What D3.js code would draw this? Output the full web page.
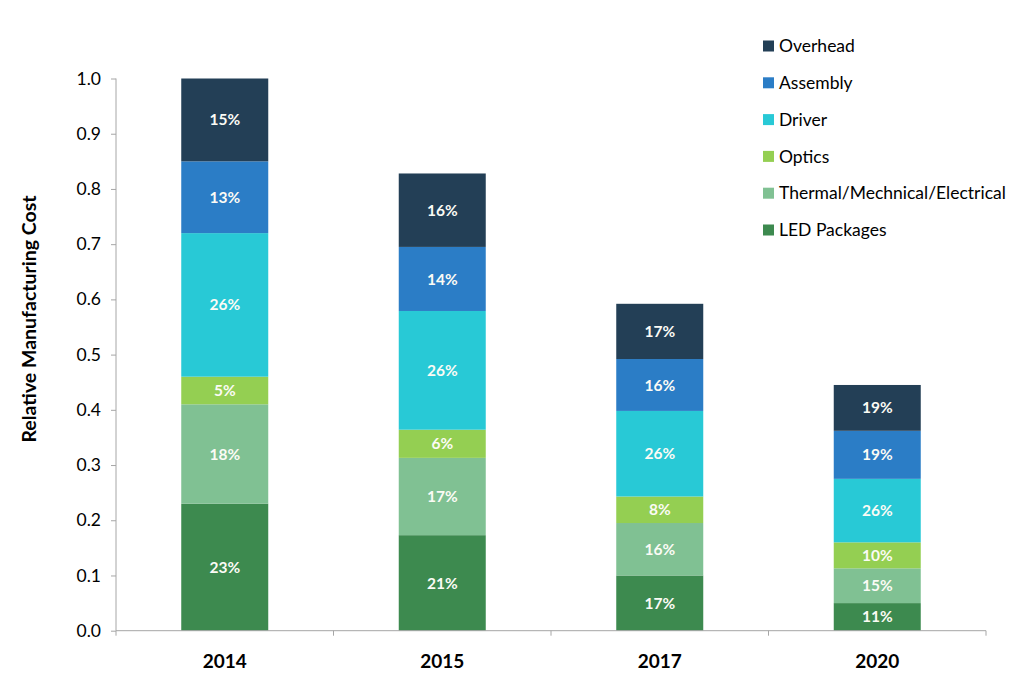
<!DOCTYPE html>
<html><head><meta charset="utf-8">
<script src="https://cdn.jsdelivr.net/npm/d3@7"></script>
<style>body{margin:0;background:#fff}svg{display:block}</style>
</head><body><svg id="c" width="1024" height="690"></svg>
<script>
const categories = ["2014", "2015", "2017", "2020"];
const seriesNames = ["LED Packages", "Thermal/Mechnical/Electrical", "Optics", "Driver", "Assembly", "Overhead"];
const colors = ["#3d8a4f", "#80c193", "#94cf52", "#28c9d6", "#2b7dc6", "#233f56"];
const ledPackages = [0.230, 0.173, 0.100, 0.050];
const thermal     = [0.180, 0.140, 0.095, 0.063];
const optics      = [0.050, 0.051, 0.048, 0.047];
const driver      = [0.260, 0.215, 0.155, 0.115];
const assembly    = [0.130, 0.116, 0.094, 0.087];
const overhead    = [0.150, 0.133, 0.100, 0.083];
const ledLabels      = ["23%", "21%", "17%", "11%"];
const thermalLabels  = ["18%", "17%", "16%", "15%"];
const opticsLabels   = ["5%", "6%", "8%", "10%"];
const driverLabels   = ["26%", "26%", "26%", "26%"];
const assemblyLabels = ["13%", "14%", "16%", "19%"];
const overheadLabels = ["15%", "16%", "17%", "19%"];
const yTicks = [0, 0.1, 0.2, 0.3, 0.4, 0.5, 0.6, 0.7, 0.8, 0.9, 1.0];
const yTitle = "Relative Manufacturing Cost";

(function () {
const values = [ledPackages, thermal, optics, driver, assembly, overhead];
const labels = [ledLabels, thermalLabels, opticsLabels, driverLabels, assemblyLabels, overheadLabels];
const rows = categories.map((c, i) => {
  const r = {cat: c};
  seriesNames.forEach((s, j) => r[s] = values[j][i]);
  return r;
});
const stack = d3.stack().keys(seriesNames)(rows);

const font = "Lato, 'Open Sans', sans-serif";
const svg = d3.select("#c");
const pl = 116, pr = 986, pt = 78.5, pb = 630.7;
const x = d3.scaleBand().domain(categories).range([pl, pr]).paddingInner(0.6).paddingOuter(0.3);
const y = d3.scaleLinear().domain([0, 1]).range([pb, pt]);

stack.forEach((layer, j) => {
  const g = svg.append("g");
  g.selectAll("rect").data(layer).join("rect")
    .attr("x", d => x(d.data.cat))
    .attr("width", x.bandwidth())
    .attr("y", d => y(d[1]))
    .attr("height", d => y(d[0]) - y(d[1]))
    .attr("fill", colors[j]);
  g.selectAll("text").data(layer).join("text")
    .attr("x", d => x(d.data.cat) + x.bandwidth() / 2)
    .attr("y", d => (y(d[0]) + y(d[1])) / 2)
    .attr("dy", "0.36em")
    .attr("text-anchor", "middle")
    .attr("fill", "#fbfbf5")
    .attr("font-family", font)
    .attr("font-weight", "bold")
    .attr("font-size", 15.5)
    .text((d, i) => labels[j][i]);
});

const yAxis = svg.append("g").attr("transform", `translate(${pl},0)`)
  .call(d3.axisLeft(y).tickValues(yTicks).tickFormat(d3.format(".1f")).tickSize(5).tickPadding(10));
yAxis.selectAll("path,line").attr("stroke", "#a6a6a6");
yAxis.select(".domain").attr("d", `M0,${pt}V${pb}`);
yAxis.selectAll("text").attr("font-family", font).attr("font-size", 17.5).attr("fill", "#000");

const xAxisG = svg.append("g").attr("transform", `translate(0,${pb})`);
xAxisG.append("line").attr("x1", pl).attr("x2", pr).attr("stroke", "#a6a6a6");
const bounds = d3.range(categories.length + 1).map(i => pl + i * x.step());
xAxisG.selectAll("line.t").data(bounds).join("line").attr("class", "t")
  .attr("x1", d => d).attr("x2", d => d).attr("y1", 0).attr("y2", 5).attr("stroke", "#a6a6a6");
xAxisG.selectAll("text").data(categories).join("text")
  .attr("x", d => x(d) + x.bandwidth() / 2)
  .attr("y", 37)
  .attr("text-anchor", "middle")
  .attr("font-family", font).attr("font-weight", "bold").attr("font-size", 19)
  .text(d => d);

svg.append("text")
  .attr("transform", `translate(36,319) rotate(-90)`)
  .attr("text-anchor", "middle")
  .attr("font-family", font).attr("font-weight", "bold").attr("font-size", 19.5)
  .text(yTitle);

const legendOrder = seriesNames.map((s, i) => i).reverse();
const lg = svg.append("g");
legendOrder.forEach((idx, k) => {
  const cy = 46 + k * 36.8;
  lg.append("rect").attr("x", 763).attr("y", cy - 5.5).attr("width", 11).attr("height", 11).attr("fill", colors[idx]);
  lg.append("text").attr("x", 779).attr("y", cy).attr("dy", "0.35em")
    .attr("font-family", font).attr("font-size", 17.5).attr("fill", "#000")
    .text(seriesNames[idx]);
});
})();
</script></body></html>
